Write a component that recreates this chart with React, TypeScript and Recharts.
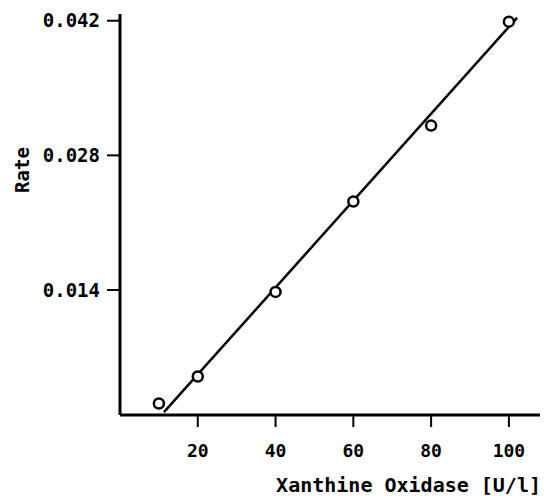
import React from 'react';
import { ComposedChart, Scatter, XAxis, YAxis } from 'recharts';

const oxidase = [10, 20, 40, 60, 80, 100];
const rate = [0.0022, 0.0050, 0.0138, 0.0232, 0.0311, 0.0419];
const fitOxidase = [11.3, 102.1];
const fitRate = [0.0013, 0.0423];
const xTicks = [20, 40, 60, 80, 100];
const yTicks = [0.014, 0.028, 0.042];

const points = oxidase.map((x, i) => ({ x, y: rate[i] }));
const fit = fitOxidase.map((x, i) => ({ x, y: fitRate[i] }));

const FONT = '"DejaVu Sans Mono", monospace';

const Dot = (p: any) => (
  <circle cx={p.cx} cy={p.cy} r={5} fill="#fff" stroke="#000" strokeWidth={2.5} />
);
const NoDot = () => <g />;

const YLabel = (p: any) => {
  const vb = p.viewBox || { x: 0, y: 0 };
  const x = vb.x + 22;
  const y = vb.y + 156;
  return (
    <text x={x} y={y} transform={`rotate(-90, ${x}, ${y})`} textAnchor="middle" dominantBaseline="central"
      fontFamily={FONT} fontSize={19} fontWeight="bold" fill="#000">Rate</text>
  );
};

const XLabel = (p: any) => {
  const vb = p.viewBox || { x: 0, y: 0, width: 0 };
  return (
    <text x={vb.x + vb.width + 1} y={vb.y + 77} textAnchor="end"
      fontFamily={FONT} fontSize={20} fontWeight="bold" fill="#000">Xanthine Oxidase [U/l]</text>
  );
};

export default function App() {
  return (
    <div style={{ position: 'absolute', left: 0, top: 0, width: 544, height: 496, background: '#fff' }}>
      <ComposedChart width={544} height={496} margin={{ top: 14, right: 4, bottom: 0, left: 0 }}>
        <XAxis
          type="number"
          dataKey="x"
          domain={[0, 108]}
          ticks={xTicks}
          allowDataOverflow
          height={81}
          axisLine={{ stroke: '#000', strokeWidth: 3 }}
          tickLine={{ stroke: '#000', strokeWidth: 2 }}
          tickSize={12}
          tickMargin={17}
          tick={{ fill: '#000', fontFamily: FONT, fontSize: 18, fontWeight: 'bold' }}
          label={<XLabel />}
        />
        <YAxis
          type="number"
          dataKey="y"
          domain={[0.001, 0.0427]}
          ticks={yTicks}
          allowDataOverflow
          width={120}
          axisLine={{ stroke: '#000', strokeWidth: 3 }}
          tickLine={{ stroke: '#000', strokeWidth: 2 }}
          tickSize={13}
          tickMargin={7}
          tickFormatter={(v: number) => v.toFixed(3)}
          tick={{ fill: '#000', fontFamily: FONT, fontSize: 19, fontWeight: 'bold' }}
          label={<YLabel />}
        />
        <Scatter data={fit} line={{ stroke: '#000', strokeWidth: 2.5 }} shape={NoDot} isAnimationActive={false} />
        <Scatter data={points} shape={Dot} isAnimationActive={false} />
      </ComposedChart>
    </div>
  );
}
